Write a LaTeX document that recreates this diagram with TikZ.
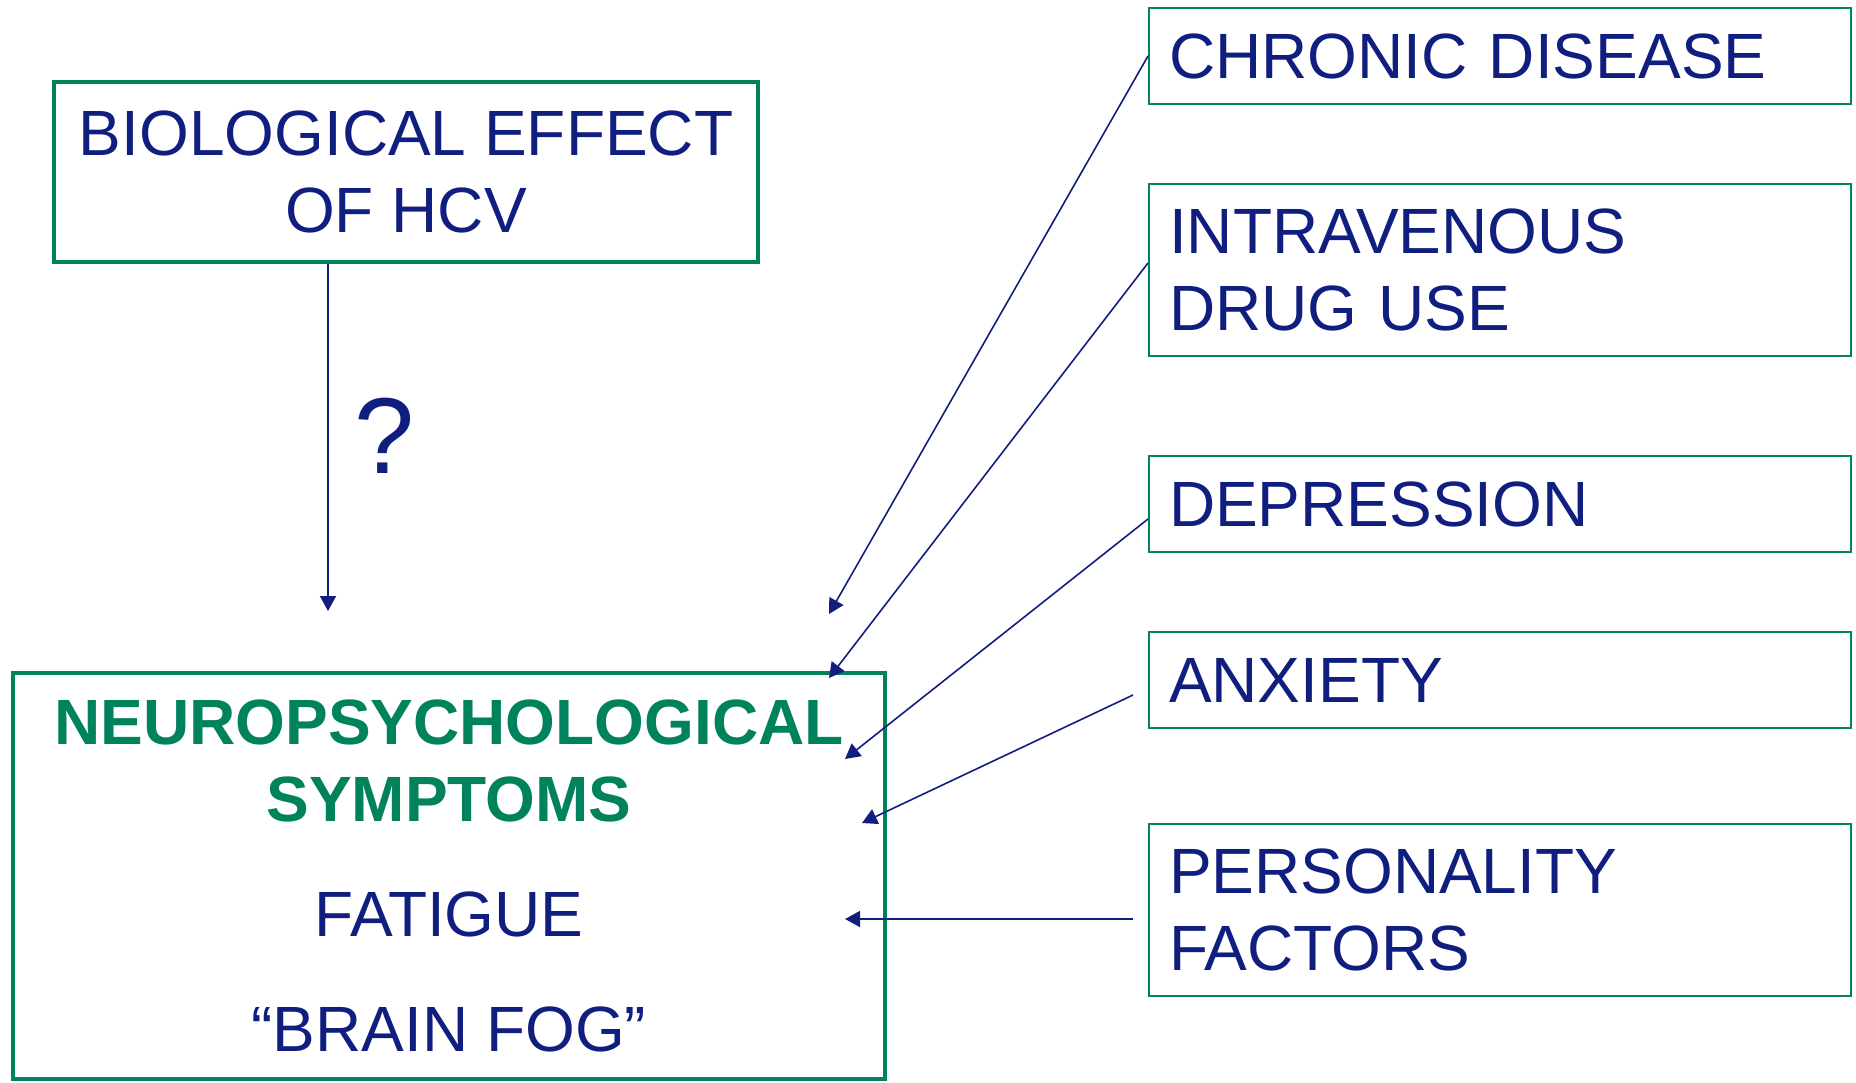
\documentclass[tikz,border=0pt]{standalone}
\usepackage{fontspec}
\setmainfont{Liberation Sans}
\usetikzlibrary{arrows.meta}
\definecolor{hcvblue}{RGB}{16,30,128}
\definecolor{hcvgreen}{RGB}{0,130,92}
\begin{document}
\begin{tikzpicture}
[x=0.5pt,y=-0.5pt,
 every node/.style={text=hcvblue,font=\fontsize{32}{38.5}\selectfont},
 bigbox/.style={draw=hcvgreen,line width=2.3pt,align=center,inner sep=0pt},
 factor/.style={draw=hcvgreen,line width=1pt,minimum width=351pt,text width=331pt,inner xsep=10pt,align=left},
 arr/.style={draw=hcvblue,line width=0.8pt,-{Triangle[length=7.5pt,width=8pt]}}]
\useasboundingbox (0,0) rectangle (1856,1082);
\node[bigbox,minimum width=352pt,minimum height=90pt] (bio) at (406,172) {BIOLOGICAL EFFECT\\OF HCV};
\node[bigbox,minimum width=436pt,minimum height=203pt] (neuro) at (449,876)
 {\textcolor{hcvgreen}{\bfseries NEUROPSYCHOLOGICAL}\\\textcolor{hcvgreen}{\bfseries SYMPTOMS}\\[19pt]FATIGUE\\[19pt]“BRAIN FOG”};
\node[font=\fontsize{54}{60}\selectfont] (qmark) at (385,436) {?};
% risk factors
\node[factor,minimum height=48pt] (chronic) at (1500,56) {CHRONIC DISEASE};
\node[factor,minimum height=86pt] (iv) at (1500,270) {INTRAVENOUS\\DRUG USE};
\node[factor,minimum height=48pt] (dep) at (1500,504) {DEPRESSION};
\node[factor,minimum height=48pt] (anx) at (1500,680) {ANXIETY};
\node[factor,minimum height=86pt] (pers) at (1500,910) {PERSONALITY\\FACTORS};
% arrow ends
\coordinate (bioend) at (328,611);
\coordinate (t1) at (829,614);
\coordinate (t2) at (829,678);
\coordinate (t3) at (845,759);
\coordinate (t4) at (862,823);
\coordinate (t5) at (845,919);
\coordinate (s2) at ([yshift=3.5pt]iv.west);
\coordinate (s3) at ([yshift=-7.5pt]dep.west);
\coordinate (s4) at (1133,695);
\coordinate (s5) at (1133,919);
\draw[arr] (bio.south -| bioend) -- (bioend);
\foreach \from/\to in {chronic.west/t1,s2/t2,s3/t3,s4/t4,s5/t5}
\draw[arr] (\from) -- (\to);
\end{tikzpicture}
\end{document}
